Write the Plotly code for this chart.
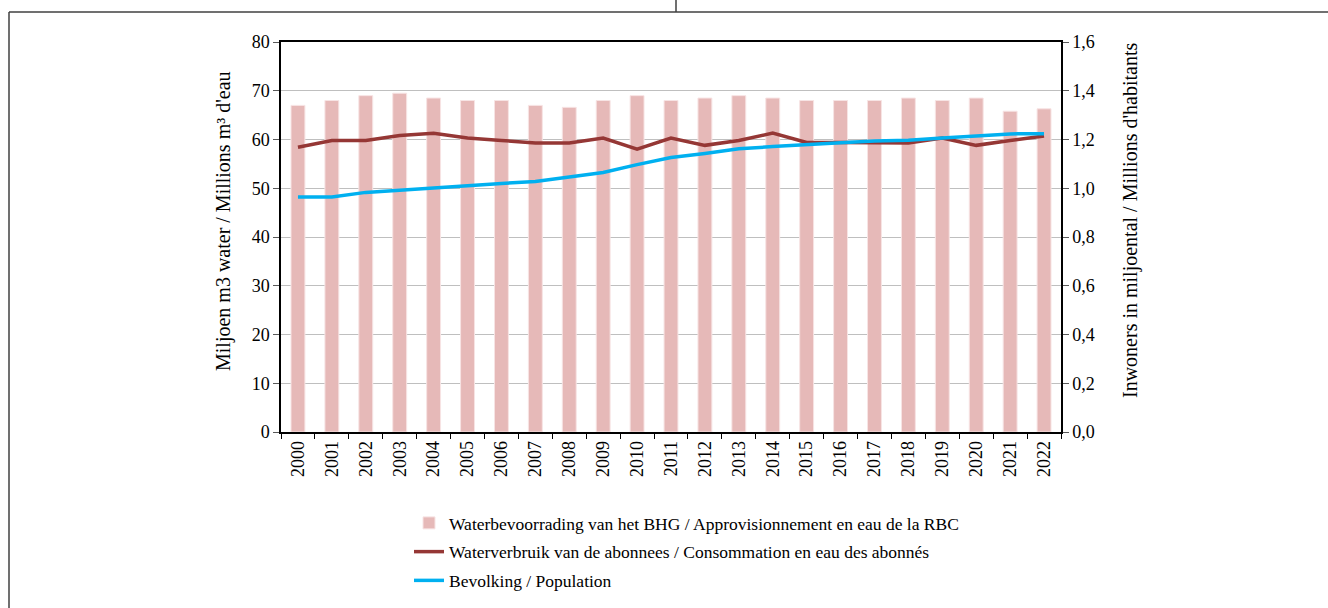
import plotly.graph_objects as go

years = [str(y) for y in range(2000, 2023)]

supply = [67.0, 68.0, 69.0, 69.5, 68.5, 68.0, 68.0, 67.0, 66.6, 68.0, 69.0, 68.0,
          68.5, 69.0, 68.5, 68.0, 68.0, 68.0, 68.5, 68.0, 68.5, 65.8, 66.3]
consumption = [58.4, 59.8, 59.8, 60.8, 61.3, 60.3, 59.8, 59.3, 59.3, 60.3, 58.0, 60.3,
               58.8, 59.8, 61.3, 59.4, 59.4, 59.3, 59.3, 60.3, 58.8, 59.8, 60.7]
population = [0.964, 0.964, 0.983, 0.993, 1.002, 1.012, 1.020, 1.028, 1.047, 1.065, 1.097, 1.126,
              1.143, 1.162, 1.171, 1.180, 1.187, 1.194, 1.197, 1.206, 1.216, 1.223, 1.224]

FONT = "Liberation Serif"
W, H = 1328, 608
L, R, T, B = 281, 267, 42, 176
PW, PH = W - L - R, H - T - B


def px(x):
    return (x - L) / PW


def py(y):
    return (H - B - y) / PH


fig = go.Figure()
fig.add_trace(go.Bar(
    x=years, y=supply, name="Waterbevoorrading van het BHG / Approvisionnement en eau de la RBC",
    marker=dict(color="#E6B9B8", line=dict(color="#F7E4E4", width=1)),
    legendgroup="a",
))
fig.add_trace(go.Scatter(
    x=years, y=consumption, mode="lines",
    name="Waterverbruik van de abonnees / Consommation en eau des abonnés",
    line=dict(color="#953735", width=3.5), legendgroup="b",
))
fig.add_trace(go.Scatter(
    x=years, y=population, mode="lines", yaxis="y2",
    name="Bevolking / Population",
    line=dict(color="#00B0F0", width=3.5), legendgroup="c",
))

# outer frame of the original picture
frame = dict(type="line", xref="paper", yref="paper", line=dict(color="#404040", width=1.5))
fig.add_shape(x0=px(9), x1=px(W), y0=py(12), y1=py(12), **frame)
fig.add_shape(x0=px(9), x1=px(9), y0=py(12), y1=py(H), **frame)
fig.add_shape(x0=px(676), x1=px(676), y0=py(0), y1=py(12), **frame)

# axis titles (sit a little above the plot centre in the original)
for text, x in [("Miljoen m3 water / Millions m³ d'eau", 223),
                ("Inwoners in miljoental / Millions d'habitants", 1130)]:
    fig.add_annotation(text=text, xref="paper", yref="paper", x=px(x), y=py(221),
                       textangle=-90, showarrow=False, font=dict(family=FONT, size=20),
                       xanchor="center", yanchor="middle")

fig.update_layout(
    width=W, height=H, margin=dict(l=L, r=R, t=T, b=B, autoexpand=False),
    paper_bgcolor="white", plot_bgcolor="white",
    font=dict(family=FONT, size=18, color="black"),
    separators=", ",
    bargap=0.59, showlegend=True,
    legend=dict(x=px(409), y=py(505), xanchor="left", yanchor="top",
                font=dict(family=FONT, size=17.5), tracegroupgap=3,
                traceorder="grouped", bgcolor="rgba(0,0,0,0)"),
    xaxis=dict(type="category", tickangle=-90, showline=True, mirror=True,
               linecolor="black", linewidth=1.5, ticks="outside", tickson="boundaries",
               ticklen=5, tickcolor="black", showgrid=False),
    yaxis=dict(range=[0, 80], dtick=10, showline=True, linecolor="black", linewidth=1.5,
               ticks="outside", ticklen=6, tickcolor="#595959",
               showgrid=True, gridcolor="#BFBFBF", gridwidth=1, zeroline=False),
    yaxis2=dict(range=[0, 1.6], dtick=0.2, tickformat=".1f", overlaying="y", side="right",
                showline=True, linecolor="black", linewidth=1.5,
                ticks="outside", ticklen=6, tickcolor="#595959", showgrid=False, zeroline=False),
)

fig.write_html("out.html", config={"displayModeBar": False},
               post_script="document.body.style.margin='0';document.body.style.overflow='hidden';")
